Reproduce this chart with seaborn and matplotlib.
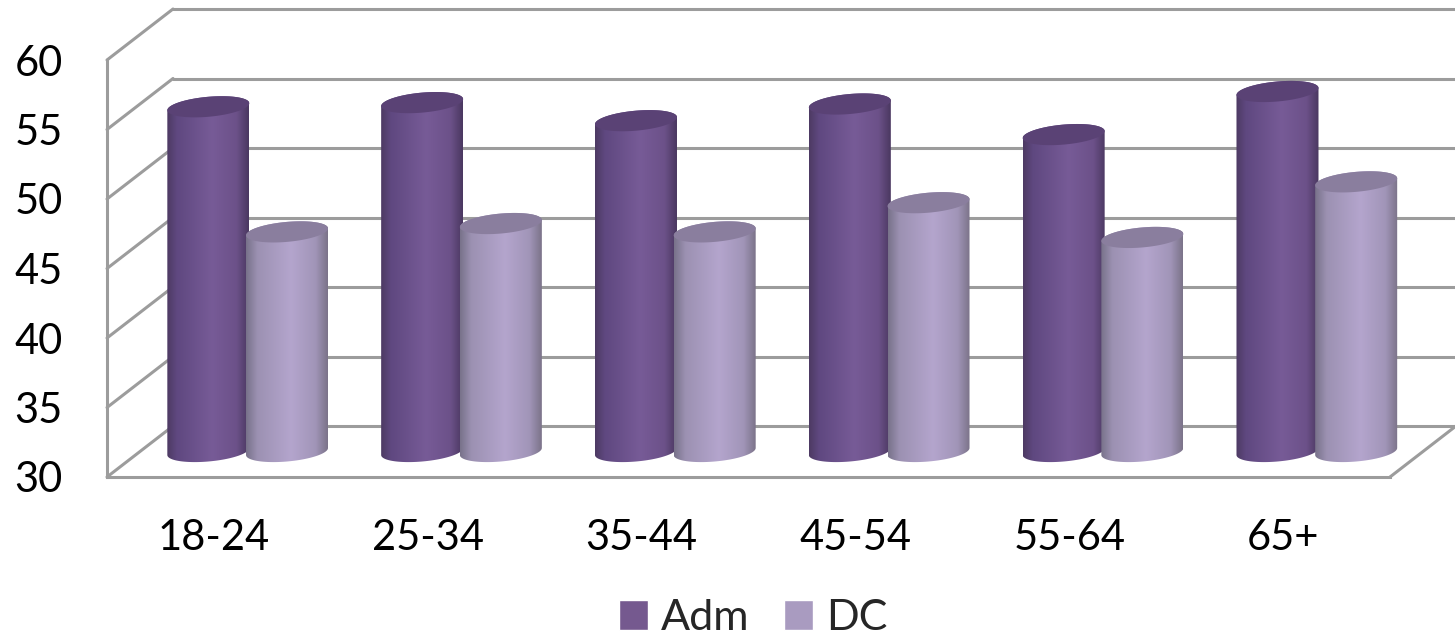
import numpy as np
import pandas as pd
import matplotlib
matplotlib.use("Agg")
import matplotlib.pyplot as plt
import seaborn as sns
from matplotlib.colors import LinearSegmentedColormap
from matplotlib.path import Path
from matplotlib.patches import PathPatch

# Data
age_groups = ["18-24", "25-34", "35-44", "45-54", "55-64", "65+"]
adm = [54.8, 55.1, 53.8, 55.0, 52.8, 55.9]
dc = [45.8, 46.4, 45.8, 47.9, 45.4, 49.4]
y_ticks = [30, 35, 40, 45, 50, 55, 60]

# Fake 3D settings, in pixels of the output
W, H = 1455, 639
px_x = 6 / 1283
px_y = 30 / 417
depth_x = 33 * px_x
depth_y = 25.5 * px_y
grid_col = "#9c9c9c"

sns.set_style("white")
plt.rcParams["font.family"] = ["Lato", "DejaVu Sans"]

df = pd.DataFrame({
    "age": age_groups * 2,
    "value": adm + dc,
    "series": ["Adm"] * 6 + ["DC"] * 6,
})

fig = plt.figure(figsize=(W / 100, H / 100), dpi=100)
ax = fig.add_axes([107 / W, (H - 477) / H, 1283 / W, 417 / H])
sns.barplot(data=df, x="age", y="value", hue="series", ax=ax, width=0.75, gap=0,
            palette=["#75598f", "#a99bc0"], saturation=1, errorbar=None)

# Walls and floor behind the bars
for v in y_ticks:
    ax.plot([-0.5 + 2 * depth_x, 5.5 + 2 * depth_x], [v + 2 * depth_y] * 2,
            color=grid_col, lw=2.2, clip_on=False, zorder=1)
    ax.plot([-0.5, -0.5 + 2 * depth_x], [v, v + 2 * depth_y],
            color=grid_col, lw=2.2, clip_on=False, zorder=1)
ax.plot([5.5, 5.5 + 2 * depth_x], [30, 30 + 2 * depth_y],
        color=grid_col, lw=2.2, clip_on=False, zorder=1)

adm_cmap = LinearSegmentedColormap.from_list("adm", [
    (0, "#4d3a63"), (0.12, "#5f4880"), (0.55, "#775b97"), (0.85, "#6c5189"), (1, "#4a3860")])
dc_cmap = LinearSegmentedColormap.from_list("dc", [
    (0, "#78728a"), (0.14, "#9c91b2"), (0.55, "#b4a5cd"), (0.85, "#a195b8"), (1, "#7b7389")])
tops = ["#5a4275", "#8a7e9e"]
cmaps = [adm_cmap, dc_cmap]
shifts = [34.5 * px_x, 33 * px_x]
gradient = np.linspace(0, 1, 256).reshape(1, -1)

a, b, tilt = 41, 10, 3.5


def ellipse(cx, cy, t):
    return (cx + a * px_x * np.cos(t),
            cy + (b * np.sin(t) + tilt * np.cos(t)) * px_y)


for s, bars in enumerate(ax.containers):
    for i, bar in enumerate(bars):
        val = bar.get_height()
        cx = bar.get_x() + bar.get_width() / 2 + shifts[s]
        base = 30 + depth_y
        top = val + depth_y

        xb, yb = ellipse(cx, base, np.linspace(np.pi, 2 * np.pi, 60))
        xt, yt = ellipse(cx, top, np.linspace(0, np.pi, 60))
        verts = np.column_stack([np.r_[xb, xt], np.r_[yb, yt]])
        outline = PathPatch(Path(verts), transform=ax.transData, fc="none", ec="none",
                            clip_on=False)
        ax.add_patch(outline)

        z = 3 + i * 2 + s
        bar.set_visible(False)
        im = ax.imshow(gradient, cmap=cmaps[s], aspect="auto", interpolation="bilinear",
                       extent=[cx - a * px_x, cx + a * px_x, base - 2, top + 2],
                       zorder=z)
        im.set_clip_path(outline)
        im.set_clip_box(fig.bbox)

        xe, ye = ellipse(cx, top, np.linspace(0, 2 * np.pi, 90))
        ax.fill(xe, ye, color=tops[s], zorder=z + 0.5, lw=0, clip_on=False)

ax.set_xlim(-0.5, 5.5)
ax.set_ylim(30, 60)
ax.set_yticks(y_ticks)
ax.set_xlabel("")
ax.set_ylabel("")
ax.tick_params(axis="y", length=0, pad=32, labelsize=30, labelcolor="black")
ax.tick_params(axis="x", length=0, pad=30, labelsize=30, labelcolor="black")
for side in ["top", "right"]:
    ax.spines[side].set_visible(False)
for side in ["left", "bottom"]:
    ax.spines[side].set_color(grid_col)
    ax.spines[side].set_linewidth(2.2)
    ax.spines[side].set_zorder(2)

sns.move_legend(ax, "center", bbox_to_anchor=(753 / W, (H - 618) / H),
                bbox_transform=fig.transFigure, ncol=2, frameon=False, title=None,
                fontsize=31, handlelength=0.68, handleheight=0.68, handletextpad=0.3,
                columnspacing=0.8, borderpad=0, borderaxespad=0)

fig.savefig("out.png", dpi=100)
